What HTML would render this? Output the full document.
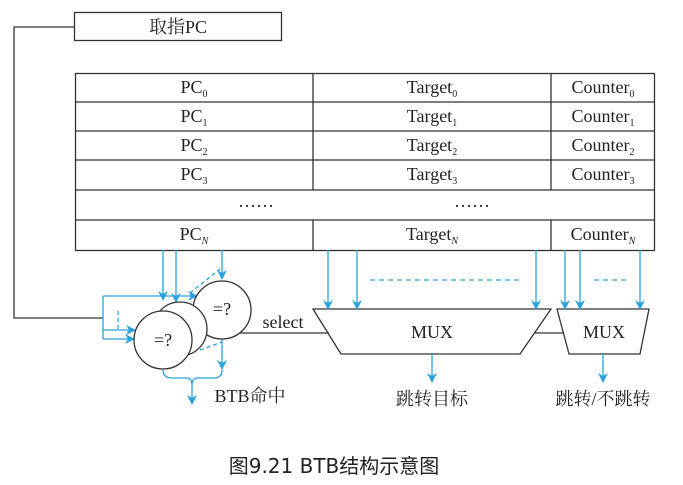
<!DOCTYPE html>
<html><head><meta charset="utf-8"><style>
body{margin:0;background:#fff;}
svg text{font-family:"Liberation Serif","Noto Serif CJK SC",serif;fill:#222;}
</style></head><body>
<svg width="683" height="480" viewBox="0 0 683 480" xmlns="http://www.w3.org/2000/svg">
<defs>
<marker id="a" markerWidth="10" markerHeight="10" refX="9" refY="5" orient="auto" markerUnits="userSpaceOnUse">
<path d="M0,0 L10,5 L0,10 L3,5 z" fill="#2aa3dd"/></marker>
</defs>
<g stroke="#333" stroke-width="1.3" fill="none">
<rect x="74.5" y="12.5" width="207" height="28"/>
<polyline points="74,27 14,27 14,318 103,318"/>
<rect x="75.5" y="73.5" width="579" height="177"/>
<line x1="75" y1="102" x2="654" y2="102"/><line x1="75" y1="131" x2="654" y2="131"/>
<line x1="75" y1="160" x2="654" y2="160"/><line x1="75" y1="190" x2="654" y2="190"/>
<line x1="75" y1="220" x2="654" y2="220"/>
<line x1="313" y1="73" x2="313" y2="190"/><line x1="313" y1="220" x2="313" y2="250"/>
<line x1="551" y1="73" x2="551" y2="190"/><line x1="551" y1="220" x2="551" y2="250"/>
<polygon points="313,309 551,309 520,354 341,354" fill="#fff"/>
<polygon points="557,309 649,309 640,354 569,354" fill="#fff"/>
<line x1="535" y1="333" x2="564" y2="333"/>
<line x1="240" y1="333" x2="329" y2="333"/>
</g>
<g stroke="#2aa3dd" stroke-width="1.3" fill="none">
<polyline points="103,296 103,339"/>
<line x1="103" y1="296" x2="197" y2="296" marker-end="url(#a)"/>
<line x1="103" y1="330" x2="135" y2="330" marker-end="url(#a)"/>
<line x1="103" y1="339" x2="134" y2="339" marker-end="url(#a)"/>
<line x1="118" y1="311" x2="118" y2="330" stroke-dasharray="4,3"/>
<line x1="163" y1="250" x2="163" y2="300" marker-end="url(#a)"/>
<line x1="176" y1="250" x2="176" y2="302" marker-end="url(#a)"/>
<line x1="222" y1="250" x2="222" y2="279" marker-end="url(#a)"/>
<line x1="190" y1="293" x2="220" y2="269" stroke-dasharray="4,3"/>
<line x1="200" y1="350" x2="222" y2="342" stroke-dasharray="4,3"/>
<line x1="222" y1="339" x2="222" y2="369" marker-end="url(#a)"/>
<path d="M163,370 Q163,378 172,378 L186,378 Q192,378 192,385 Q192,378 198,378 L214,378 Q222,378 222,370"/>
<line x1="192" y1="383" x2="192" y2="404" marker-end="url(#a)"/>
<line x1="328" y1="250" x2="328" y2="309" marker-end="url(#a)"/>
<line x1="357" y1="250" x2="357" y2="309" marker-end="url(#a)"/>
<line x1="536" y1="250" x2="536" y2="309" marker-end="url(#a)"/>
<line x1="370" y1="280" x2="520" y2="280" stroke-dasharray="5,4"/>
<line x1="565" y1="250" x2="565" y2="309" marker-end="url(#a)"/>
<line x1="580" y1="250" x2="580" y2="309" marker-end="url(#a)"/>
<line x1="640" y1="250" x2="640" y2="309" marker-end="url(#a)"/>
<line x1="594" y1="280" x2="630" y2="280" stroke-dasharray="5,4"/>
<line x1="432" y1="354" x2="432" y2="382" marker-end="url(#a)"/>
<line x1="603" y1="354" x2="603" y2="382" marker-end="url(#a)"/>
</g>
<g stroke="#333" stroke-width="1.3" fill="#fff">
<circle cx="222" cy="310" r="29"/>
<circle cx="180" cy="329" r="27"/>
<circle cx="163" cy="340" r="29"/>
</g>
<g font-size="18" text-anchor="middle">
<text x="178" y="33">取指PC</text>
<text x="194" y="93">PC<tspan font-size="10" dy="4">0</tspan></text>
<text x="194" y="122">PC<tspan font-size="10" dy="4">1</tspan></text>
<text x="194" y="151">PC<tspan font-size="10" dy="4">2</tspan></text>
<text x="194" y="180">PC<tspan font-size="10" dy="4">3</tspan></text>
<text x="194" y="240">PC<tspan font-size="10" dy="4" font-style="italic">N</tspan></text>
<text x="432" y="93">Target<tspan font-size="10" dy="4">0</tspan></text>
<text x="432" y="122">Target<tspan font-size="10" dy="4">1</tspan></text>
<text x="432" y="151">Target<tspan font-size="10" dy="4">2</tspan></text>
<text x="432" y="180">Target<tspan font-size="10" dy="4">3</tspan></text>
<text x="432" y="240">Target<tspan font-size="10" dy="4" font-style="italic">N</tspan></text>
<text x="603" y="93">Counter<tspan font-size="10" dy="4">0</tspan></text>
<text x="603" y="122">Counter<tspan font-size="10" dy="4">1</tspan></text>
<text x="603" y="151">Counter<tspan font-size="10" dy="4">2</tspan></text>
<text x="603" y="180">Counter<tspan font-size="10" dy="4">3</tspan></text>
<text x="603" y="240">Counter<tspan font-size="10" dy="4" font-style="italic">N</tspan></text>
<text x="256" y="207">……</text>
<text x="472" y="207">……</text>
<text x="222" y="315">=?</text>
<text x="163" y="346">=?</text>
<text x="432" y="338">MUX</text>
<text x="604" y="338">MUX</text>
<text x="283" y="328">select</text>
<text x="250" y="402">BTB命中</text>
<text x="432" y="405">跳转目标</text>
<text x="603" y="405">跳转/不跳转</text>
</g>
<text x="334" y="473" font-size="20" text-anchor="middle" style='font-family:"DejaVu Sans","Noto Sans CJK SC",sans-serif'>图9.21    BTB结构示意图</text>
</svg>
</body></html>
